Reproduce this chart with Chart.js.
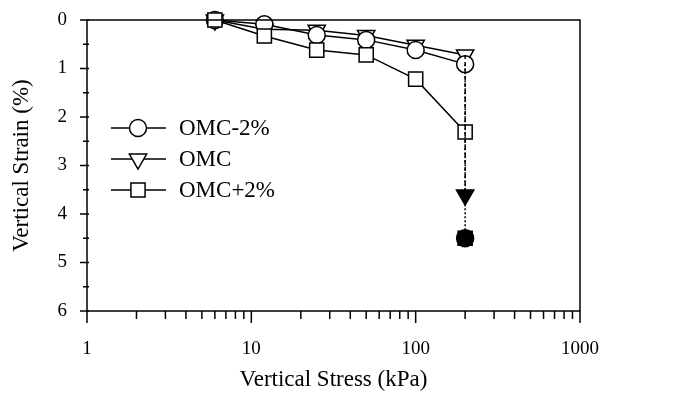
<!DOCTYPE html>
<html>
<head>
<meta charset="utf-8">
<script src="https://cdn.jsdelivr.net/npm/chart.js@4/dist/chart.umd.min.js"></script>
<style>
  html, body { margin: 0; padding: 0; background: #fff; }
  #wrap { width: 692px; height: 394px; }
</style>
</head>
<body>
<div id="wrap"><canvas id="stage" width="692" height="394"></canvas></div>
<script>
// data
const stress = [6, 12, 25, 50, 100, 200];
const omcMinus2 = [0, 0.09, 0.31, 0.41, 0.62, 0.91];
const omc = [0, 0.19, 0.21, 0.32, 0.52, 0.72];
const omcPlus2 = [0, 0.33, 0.62, 0.72, 1.22, 2.31];
// end state at 200 kPa (filled markers)
const finalStress = 200;
const omcMinus2Final = 4.5;
const omcFinal = 3.61;
const omcPlus2Final = 4.5;
const xTicks = [1, 10, 100, 1000];
const yTicks = [0, 1, 2, 3, 4, 5, 6];

const serif = 'Liberation Serif';

function pts(xs, ys) {
  return xs.map((x, i) => ({ x: x, y: ys[i] }));
}

const styles = {
  'OMC-2%': { pointStyle: 'circle', radius: 8.5, rotation: 0 },
  'OMC': { pointStyle: 'triangle', radius: 10, rotation: 180 },
  'OMC+2%': { pointStyle: 'rect', radius: 10, rotation: 0 }
};

function series(label, data) {
  const s = styles[label];
  return {
    label: label,
    data: data,
    borderColor: '#000',
    borderWidth: 1.5,
    pointStyle: s.pointStyle,
    pointRadius: s.radius,
    pointRotation: s.rotation,
    pointBackgroundColor: '#fff',
    pointBorderColor: '#000',
    pointBorderWidth: 1.5,
    fill: false,
    tension: 0,
    clip: false
  };
}

function drop(label, fromY, toY, dash, width) {
  const s = styles[label];
  return {
    label: label + ' end',
    data: [{ x: finalStress, y: fromY }, { x: finalStress, y: toY }],
    borderColor: '#000',
    borderWidth: width,
    borderDash: dash,
    pointStyle: s.pointStyle,
    pointRadius: [0, s.radius],
    pointRotation: s.rotation,
    pointBackgroundColor: '#000',
    pointBorderColor: '#000',
    pointBorderWidth: 1.5,
    fill: false,
    clip: false
  };
}

// frame, ticks and legend
const decor = {
  id: 'decor',
  afterDraw(chart) {
    const ctx = chart.ctx;
    const a = chart.chartArea;
    const xs = chart.scales.x;
    const ys = chart.scales.y;
    ctx.save();
    ctx.strokeStyle = '#000';
    ctx.lineWidth = 1.5;
    ctx.strokeRect(a.left, a.top, a.right - a.left, a.bottom - a.top);

    ctx.beginPath();
    // x ticks, below axis
    for (let d = 1; d < 1000; d *= 10) {
      for (let m = 1; m < 10; m++) {
        const px = xs.getPixelForValue(d * m);
        ctx.moveTo(px, a.bottom);
        ctx.lineTo(px, a.bottom + (m === 1 ? 12 : 8));
      }
    }
    const px1000 = xs.getPixelForValue(1000);
    ctx.moveTo(px1000, a.bottom);
    ctx.lineTo(px1000, a.bottom + 12);
    // y ticks, left of axis
    for (let v = 0; v <= 6; v += 0.5) {
      const py = ys.getPixelForValue(v);
      const major = Number.isInteger(v);
      ctx.moveTo(a.left - (major ? 7 : 4), py);
      ctx.lineTo(a.left + 2, py);
    }
    ctx.stroke();

    // legend
    const rows = [['OMC-2%', 128], ['OMC', 159], ['OMC+2%', 190]];
    ctx.font = '23px "' + serif + '"';
    ctx.textBaseline = 'middle';
    ctx.fillStyle = '#000';
    rows.forEach(function (r) {
      const s = styles[r[0]];
      ctx.beginPath();
      ctx.moveTo(111, r[1]);
      ctx.lineTo(166, r[1]);
      ctx.stroke();
      ctx.fillStyle = '#fff';
      Chart.helpers.drawPoint(ctx, {
        pointStyle: s.pointStyle, radius: s.radius, rotation: s.rotation, borderWidth: 1.5
      }, 138, r[1]);
      ctx.fillStyle = '#000';
      ctx.fillText(r[0], 179, r[1] + 1);
    });
    ctx.restore();
  }
};

new Chart(document.getElementById('stage'), {
  type: 'line',
  data: {
    datasets: [
      drop('OMC-2%', omcMinus2[5], omcMinus2Final, [2, 2], 1.5),
      drop('OMC', omc[5], omcFinal, [4, 3], 1.5),
      drop('OMC+2%', omcPlus2[5], omcPlus2Final, [], 0),
      series('OMC+2%', pts(stress, omcPlus2)),
      series('OMC-2%', pts(stress, omcMinus2)),
      series('OMC', pts(stress, omc))
    ]
  },
  options: {
    responsive: false,
    animation: false,
    layout: { padding: { left: 0, right: 112, top: 20, bottom: 0 } },
    plugins: { legend: { display: false }, tooltip: { enabled: false } },
    scales: {
      x: {
        type: 'logarithmic',
        min: 1,
        max: 1000,
        afterBuildTicks: function (scale) {
          scale.ticks = xTicks.map(v => ({ value: v, major: true }));
        },
        afterFit: function (scale) {
          scale.height = 83;
          scale.paddingLeft = 0;
          scale.paddingRight = 0;
        },
        grid: { display: false, drawTicks: false },
        border: { display: false },
        ticks: {
          autoSkip: false,
          maxRotation: 0,
          padding: 27,
          color: '#000',
          font: { family: serif, size: 19 },
          callback: function (v) { return String(v); }
        },
        title: {
          display: true,
          text: 'Vertical Stress (kPa)',
          color: '#000',
          font: { family: serif, size: 23 },
          padding: { top: 0, bottom: 0 }
        }
      },
      y: {
        type: 'linear',
        reverse: true,
        min: 0,
        max: 6,
        afterBuildTicks: function (scale) {
          scale.ticks = yTicks.map(v => ({ value: v }));
        },
        afterFit: function (scale) {
          scale.width = 87;
          scale.paddingTop = 0;
          scale.paddingBottom = 0;
        },
        grid: { display: false, drawTicks: false },
        border: { display: false },
        ticks: {
          padding: 20,
          color: '#000',
          font: { family: serif, size: 19 }
        },
        title: {
          display: true,
          text: 'Vertical Strain (%)',
          color: '#000',
          font: { family: serif, size: 23 },
          padding: { top: 8, bottom: 0 }
        }
      }
    }
  },
  plugins: [decor]
});
</script>
</body>
</html>
